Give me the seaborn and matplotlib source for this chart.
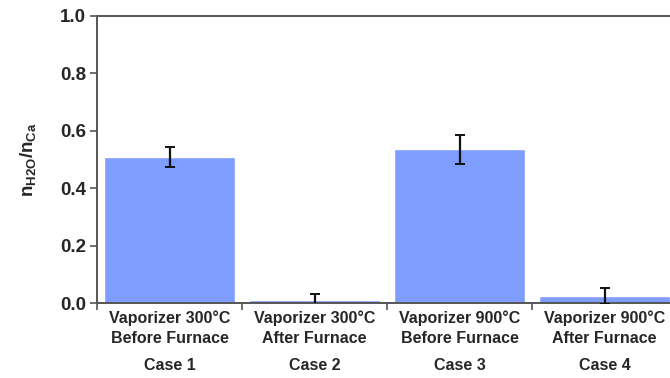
import matplotlib
matplotlib.use("Agg")
import matplotlib.pyplot as plt
import matplotlib.transforms as mtransforms
import seaborn as sns
import pandas as pd

# Water-to-calcium molar ratio for the four sampling cases
cases = ["Case 1", "Case 2", "Case 3", "Case 4"]
conditions = [
    "Vaporizer 300°C\nBefore Furnace",
    "Vaporizer 300°C\nAfter Furnace",
    "Vaporizer 900°C\nBefore Furnace",
    "Vaporizer 900°C\nAfter Furnace",
]
ratio = [0.508, 0.012, 0.535, 0.025]
ratio_err = [0.034, 0.018, 0.050, 0.027]
y_ticks = [0.0, 0.2, 0.4, 0.6, 0.8, 1.0]

sns.set_theme(style="white")
plt.rcParams["font.family"] = ["Liberation Sans", "DejaVu Sans"]
plt.rcParams["font.weight"] = "bold"
plt.rcParams["mathtext.fontset"] = "custom"
plt.rcParams["mathtext.rm"] = "Liberation Sans:bold"
plt.rcParams["mathtext.bf"] = "Liberation Sans:bold"
plt.rcParams["mathtext.it"] = "Liberation Sans:bold"

df = pd.DataFrame({"condition": conditions, "ratio": ratio, "err": ratio_err})

fig = plt.figure(figsize=(6.7, 3.78), dpi=100)
ax = fig.add_axes([0.1448, 0.1984, 0.8552, 0.7593])

sns.barplot(data=df, x="condition", y="ratio", color="#7f9cff", saturation=1,
            width=0.9, errorbar=None, ax=ax, zorder=2)
ax.errorbar(range(len(conditions)), df["ratio"], yerr=df["err"], fmt="none",
            ecolor="#111111", elinewidth=1.6, capsize=3.5, capthick=1.4, zorder=3)

ax.set_xlim(-0.5, 3.45)
ax.set_ylim(0, 1.0)
ax.set_yticks(y_ticks)
ax.set_yticklabels([f"{v:.1f}" for v in y_ticks], fontsize=13.5, fontweight="bold")

# Category labels at bar centres, tick marks at the category boundaries
ax.set_xticks(range(len(conditions)))
ax.set_xticklabels(conditions, fontsize=11.5, fontweight="bold", linespacing=1.45)
ax.tick_params(axis="x", which="major", length=0, pad=5)
ax.set_xticks([-0.5, 0.5, 1.5, 2.5], minor=True)
ax.tick_params(axis="x", which="minor", length=5, width=1.2, color="#555555",
               direction="out", bottom=True)
ax.tick_params(axis="y", length=5, width=1.2, color="#555555", direction="out",
               left=True, pad=3)

trans = mtransforms.blended_transform_factory(ax.transData, fig.transFigure)
for i, c in enumerate(cases):
    ax.text(i, 1 - 365 / 378, c, transform=trans, ha="center", va="center",
            fontsize=11.5, fontweight="bold")

ax.set_xlabel("")
ax.set_ylabel(r"$\mathbf{n_{H2O}/n_{Ca}}$", fontsize=13.5, labelpad=16)

for side in ["left", "bottom", "top"]:
    ax.spines[side].set_visible(True)
    ax.spines[side].set_color("#555555")
    ax.spines[side].set_linewidth(1.4)
ax.spines["right"].set_visible(False)

fig.savefig("out.png", dpi=100)
